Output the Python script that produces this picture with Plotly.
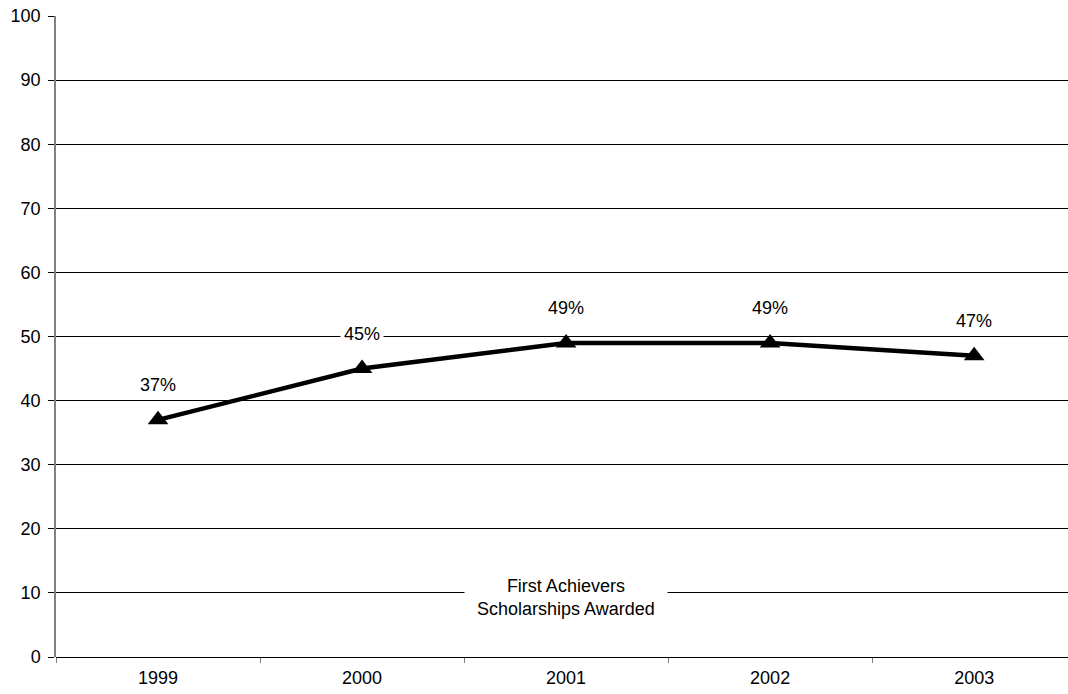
import plotly.graph_objects as go

years = ["1999", "2000", "2001", "2002", "2003"]
pct_awarded = [37, 45, 49, 49, 47]
series_name = "First Achievers<br>Scholarships Awarded"
y_ticks = [0, 10, 20, 30, 40, 50, 60, 70, 80, 90, 100]

FONT = "Liberation Sans, Arial, sans-serif"
FSIZE = 18

fig = go.Figure()
fig.add_trace(go.Scatter(
    x=years, y=pct_awarded, mode="lines+markers",
    line=dict(color="black", width=4.5),
    marker=dict(symbol="triangle-up", size=18, color="black"),
    showlegend=False, cliponaxis=False,
))

# value labels above each point, with white background over gridlines
for i, v in enumerate(pct_awarded):
    fig.add_annotation(
        x=i, y=v, xref="x", yref="y", text=f"{v}%", showarrow=False,
        yshift=35, bgcolor="white", borderpad=3,
        font=dict(family=FONT, size=FSIZE, color="black"),
    )

# series caption at bottom centre
fig.add_annotation(
    x=years.index("2001"), y=10, xref="x", yref="y",
    text=series_name, showarrow=False, yshift=-5,
    bgcolor="white", borderpad=12, align="center",
    font=dict(family=FONT, size=FSIZE, color="black"),
)

fig.update_layout(
    width=1068, height=694,
    margin=dict(l=56, r=0, t=16, b=37),
    paper_bgcolor="white", plot_bgcolor="white",
    font=dict(family=FONT, size=FSIZE, color="black"),
    xaxis=dict(
        type="category", range=[-0.5, 4.46],
        tickson="boundaries", ticks="outside", ticklen=5,
        tickcolor="#808080", showgrid=False, showline=False,
        zeroline=False, ticklabelstandoff=8,
    ),
    yaxis=dict(
        range=[0, 100], tickvals=y_ticks, ticks="outside",
        ticklen=6, tickcolor="black", ticklabelstandoff=4,
        showgrid=True, gridcolor="black", gridwidth=1,
        showline=True, linecolor="#808080", linewidth=1.5,
        zeroline=True, zerolinecolor="black", zerolinewidth=1,
    ),
)

fig.write_html("out.html")
